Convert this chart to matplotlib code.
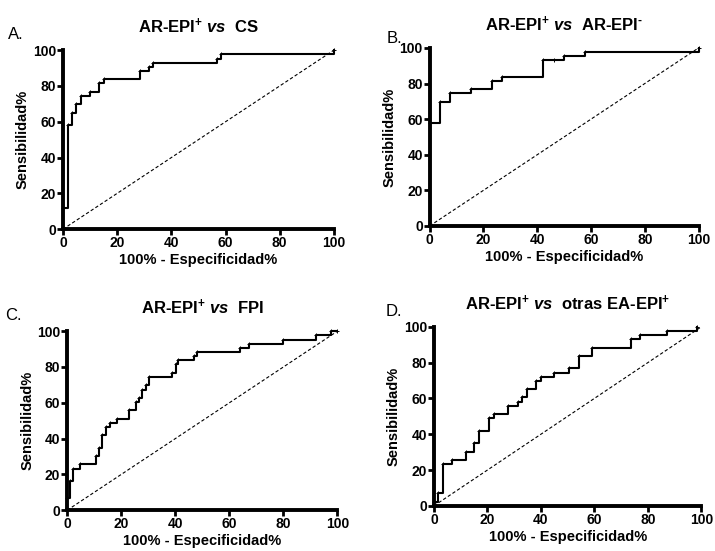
import numpy as np
import matplotlib.pyplot as plt

plt.rcParams['font.family'] = ['Liberation Sans', 'DejaVu Sans']
plt.rcParams['mathtext.fontset'] = 'custom'
plt.rcParams['mathtext.rm'] = 'Liberation Sans:bold'
plt.rcParams['mathtext.it'] = 'Liberation Sans:italic:bold'
plt.rcParams['mathtext.bf'] = 'Liberation Sans:bold'

# Curvas ROC (100% - especificidad, sensibilidad)
a_fpr = [0, 0, 1.7, 3.3, 5.0, 6.7, 10.0, 13.3, 15.0, 28.3, 31.7, 33.3, 56.7, 58.3, 100]
a_tpr = [0, 11.6, 58.1, 65.1, 69.8, 74.4, 76.7, 81.4, 83.7, 88.4, 90.7, 93.0, 95.3, 97.7, 100]

b_fpr = [0, 0, 3.8, 7.7, 15.4, 23.1, 26.9, 42.3, 46.2, 50.0, 57.7, 100]
b_tpr = [0, 58.1, 69.8, 74.4, 76.7, 81.4, 83.7, 93.0, 93.0, 95.3, 97.7, 100]

c_fpr = [0, 0, 1.0, 2.2, 4.9, 10.5, 11.7, 13.0, 14.4, 15.8, 18.3, 22.8, 25.3, 26.5,
         27.8, 29.0, 30.2, 38.6, 40.1, 41.0, 46.9, 48.1, 64.0, 67.3, 80.0, 92.0, 97.5, 100]
c_tpr = [0, 7.0, 16.3, 23.3, 25.6, 30.2, 34.9, 41.9, 46.5, 48.8, 51.2, 55.8, 60.5, 62.8,
         67.4, 69.8, 74.4, 76.7, 81.4, 83.7, 86.0, 88.4, 90.7, 93.0, 95.3, 97.7, 100, 100]

d_fpr = [0, 0, 1.6, 3.4, 6.6, 11.9, 15.0, 16.9, 20.5, 22.4, 27.7, 31.4, 32.8, 34.7,
         38.1, 40.0, 44.9, 50.4, 54.1, 59.0, 73.8, 76.9, 87.3, 98.4]
d_tpr = [0, 2.3, 7.0, 23.3, 25.6, 30.2, 34.9, 41.9, 48.8, 51.2, 55.8, 58.1, 60.5, 65.1,
         69.8, 72.1, 74.4, 76.7, 83.7, 88.4, 93.0, 95.3, 97.7, 100]

titles = [r'AR-EPI$^{+}$ $\mathit{vs}$  CS',
          r'AR-EPI$^{+}$ $\mathit{vs}$  AR-EPI$^{\text{-}}$',
          r'AR-EPI$^{+}$ $\mathit{vs}$  FPI',
          r'AR-EPI$^{+}$ $\mathit{vs}$  otras EA-EPI$^{+}$']
letters = ['A.', 'B.', 'C.', 'D.']
ticks = [0, 20, 40, 60, 80, 100]

curves = [(a_fpr, a_tpr), (b_fpr, b_tpr), (c_fpr, c_tpr), (d_fpr, d_tpr)]

# posiciones de los ejes [left, bottom, width, height]
boxes = [[0.088, 0.584, 0.379, 0.325],
         [0.601, 0.590, 0.376, 0.323],
         [0.094, 0.074, 0.378, 0.325],
         [0.607, 0.082, 0.374, 0.325]]
letter_pos = [(0.011, 0.930), (0.541, 0.922), (0.007, 0.420), (0.540, 0.427)]

fig = plt.figure(figsize=(7.15, 5.51), dpi=100)

for i in range(4):
    ax = fig.add_axes(boxes[i])
    fpr, tpr = curves[i]
    ax.plot([0, 100], [0, 100], color='black', lw=0.8, ls=(0, (3, 2)))
    ax.plot(fpr, tpr, color='black', lw=1.5, drawstyle='steps-post',
            marker='+', ms=3, mew=0.7, clip_on=False)
    ax.set_xlim(0, 100)
    ax.set_ylim(0, 100)
    ax.set_xticks(ticks)
    ax.set_yticks(ticks)
    for s in ['top', 'right']:
        ax.spines[s].set_visible(False)
    for s in ['left', 'bottom']:
        ax.spines[s].set_linewidth(2.8)
    ax.tick_params(direction='out', length=4, width=2, pad=1, labelsize=10)
    for lab in ax.get_xticklabels() + ax.get_yticklabels():
        lab.set_fontweight('bold')
    ax.set_xlabel('100% - Especificidad%', fontsize=10.5, fontweight='bold', labelpad=2)
    ax.set_ylabel('Sensibilidad%', fontsize=10.5, fontweight='bold', labelpad=2)
    ax.set_title(titles[i], fontsize=12, fontweight='bold', pad=12)
    fig.text(letter_pos[i][0], letter_pos[i][1], letters[i], fontsize=12)

fig.savefig('out.png', dpi=100)
